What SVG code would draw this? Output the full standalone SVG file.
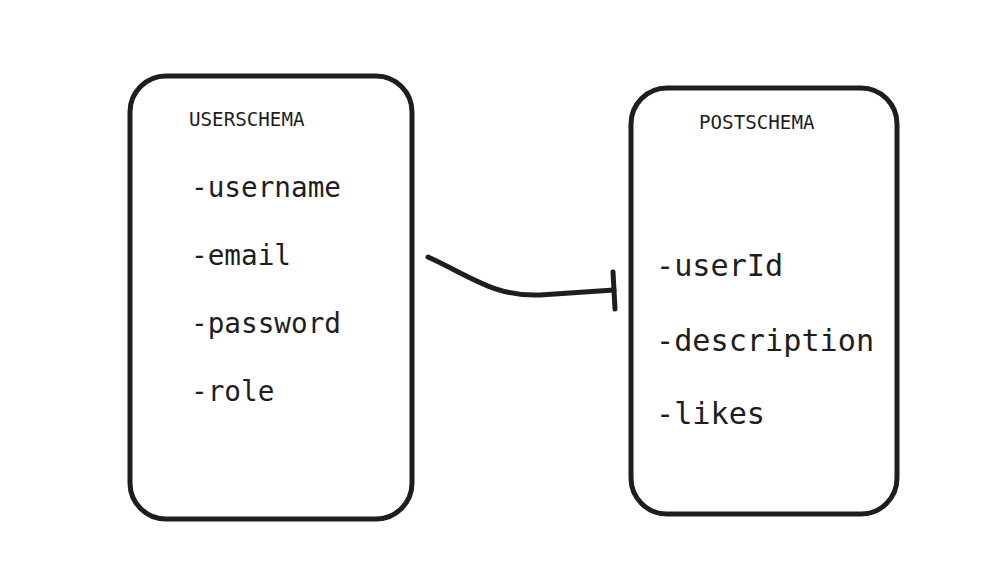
<svg xmlns="http://www.w3.org/2000/svg" width="987" height="580" viewBox="0 0 987 580">
<style>
.box{fill:#fff;stroke:#1e1e1e;stroke-width:5}
.t{font-family:"DejaVu Sans Mono","Liberation Mono",monospace;fill:#1e1e1e}
.h{font-size:19.2px}
.f{font-size:27.7px}
.g{font-size:30.2px}
.c{fill:none;stroke:#1e1e1e;stroke-width:5;stroke-linecap:round;stroke-linejoin:round}
</style>
<rect width="987" height="580" fill="#fff"/>
<g id="userschema">
<rect class="box" x="130" y="76" width="282" height="443" rx="36"/>
<text class="t h" x="189" y="126">USERSCHEMA</text>
<text class="t f" x="191" y="197">-username</text>
<text class="t f" x="191" y="265">-email</text>
<text class="t f" x="191" y="333">-password</text>
<text class="t f" x="191" y="401">-role</text>
</g>
<g id="postschema">
<rect class="box" x="631" y="88" width="266" height="426" rx="36"/>
<text class="t h" x="699" y="129">POSTSCHEMA</text>
<text class="t g" x="656" y="276">-userId</text>
<text class="t g" x="656" y="351">-description</text>
<text class="t g" x="656" y="424">-likes</text>
</g>
<g id="connectors">
<path class="c" d="M428,257 C470,276 495,297 540,295 L614,290"/>
<path class="c" d="M613,272 L615,309"/>
</g>
</svg>
